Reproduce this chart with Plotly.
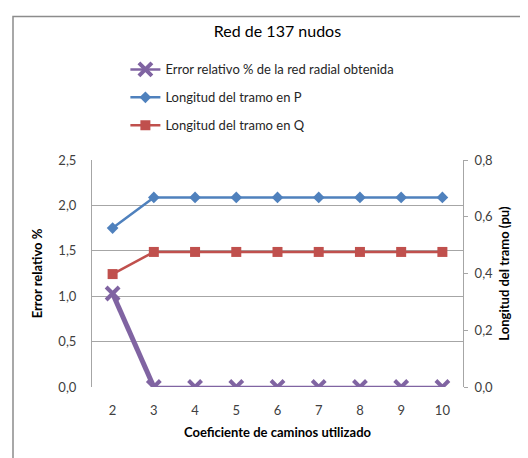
import plotly.graph_objects as go

categorias = ["2", "3", "4", "5", "6", "7", "8", "9", "10"]
error_relativo = [1.03, 0, 0, 0, 0, 0, 0, 0, 0]
longitud_p = [0.56, 0.668, 0.668, 0.668, 0.668, 0.668, 0.668, 0.668, 0.668]
longitud_q = [0.398, 0.476, 0.476, 0.476, 0.476, 0.476, 0.476, 0.476, 0.476]
left_ticks = [0, 0.5, 1.0, 1.5, 2.0, 2.5]
left_labels = ["0,0", "0,5", "1,0", "1,5", "2,0", "2,5"]
right_ticks = [0, 0.2, 0.4, 0.6, 0.8]
right_labels = ["0,0", "0,2", "0,4", "0,6", "0,8"]

PURPLE = "#8064A2"
BLUE = "#4F81BD"
RED = "#C0504D"
FONT = "Lato, 'Open Sans', sans-serif"

fig = go.Figure()
fig.add_trace(go.Scatter(
    x=categorias[:2], y=error_relativo[:2], mode="lines",
    line=dict(color=PURPLE, width=5), showlegend=False, hoverinfo="skip"))
fig.add_trace(go.Scatter(
    x=categorias, y=error_relativo, mode="lines+markers",
    name="Error relativo % de la red radial obtenida", legendgroup="a",
    line=dict(color=PURPLE, width=2.5),
    marker=dict(symbol="x-thin", size=13, line=dict(color=PURPLE, width=4), color=PURPLE)))
fig.add_trace(go.Scatter(
    x=categorias, y=longitud_p, mode="lines+markers", yaxis="y2",
    name="Longitud del tramo en P", legendgroup="b",
    line=dict(color=BLUE, width=2.5),
    marker=dict(symbol="diamond", size=9, color=BLUE)))
fig.add_trace(go.Scatter(
    x=categorias, y=longitud_q, mode="lines+markers", yaxis="y2",
    name="Longitud del tramo en Q", legendgroup="c",
    line=dict(color=RED, width=2.5),
    marker=dict(symbol="square", size=10, color=RED)))

fig.update_layout(
    width=528, height=458,
    margin=dict(l=84, r=73, t=152, b=79),
    paper_bgcolor="white", plot_bgcolor="white",
    font=dict(family=FONT, size=13, color="#404040"),
    title=dict(text="Red de 137 nudos", x=0.5, xref="paper", y=0.948, yanchor="middle",
               font=dict(family=FONT, size=16, color="black")),
    showlegend=True,
    legend=dict(x=0.09, y=1.465, xanchor="left", yanchor="top", bgcolor="rgba(0,0,0,0)",
                tracegroupgap=8, font=dict(family=FONT, size=13, color="#262626")),
    xaxis=dict(type="category", range=[-0.5, 8.5], showgrid=False, zeroline=False,
               showline=False, ticks="", ticklabelstandoff=14,
               title=dict(text="<b>Coeficiente de caminos utilizado</b>", standoff=10,
                          font=dict(family=FONT, size=13, color="black"))),
    yaxis=dict(range=[0, 2.5], tickvals=left_ticks, ticktext=left_labels,
               showgrid=True, gridcolor="#A6A6A6", gridwidth=1, zeroline=False,
               showline=True, linecolor="#A6A6A6", ticks="", ticklabelstandoff=12,
               title=dict(text="<b>Error relativo %</b>", standoff=12,
                          font=dict(family=FONT, size=13, color="black"))),
    yaxis2=dict(range=[0, 0.8], tickvals=right_ticks, ticktext=right_labels,
                overlaying="y", side="right", showgrid=False, zeroline=False,
                showline=True, linecolor="#A6A6A6", ticks="outside", ticklen=4,
                tickcolor="#A6A6A6", ticklabelstandoff=4,
                title=dict(text="<b>Longitud del tramo (pu)</b>", standoff=7,
                           font=dict(family=FONT, size=13, color="black"))),
    shapes=[dict(type="rect", xref="paper", yref="paper",
                 x0=(5 - 84) / 371, x1=(540 - 84) / 371,
                 y0=(379 - 475) / 227, y1=1 + (152 - 8.5) / 227,
                 line=dict(color="#8C8C8C", width=1.5), layer="below")],
)

fig.write_html("out.html")
